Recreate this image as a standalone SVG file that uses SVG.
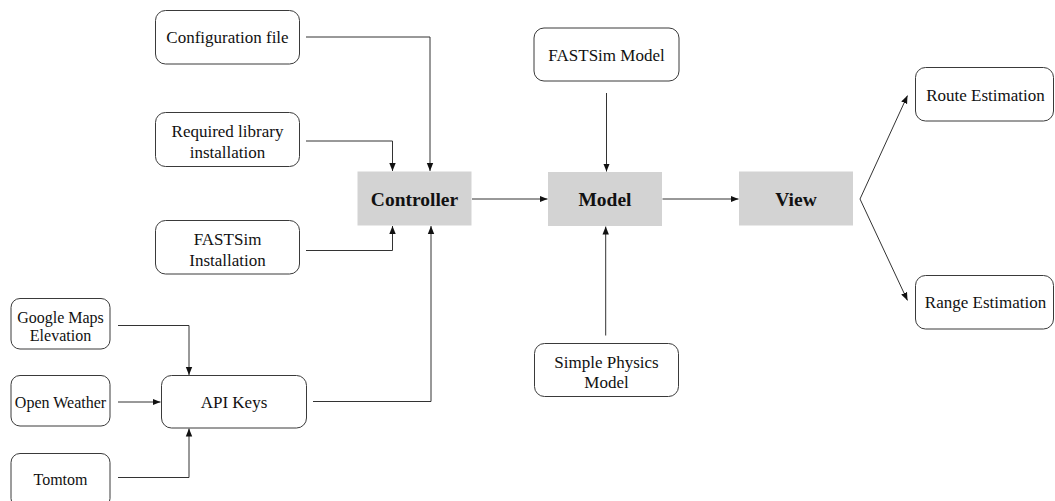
<svg xmlns="http://www.w3.org/2000/svg" width="1055" height="501" viewBox="0 0 1055 501">
<style>
.box{fill:#ffffff;stroke:#3a3a3a;stroke-width:1}
.core{fill:#d3d3d3;stroke:none}
.t{font-family:"Liberation Serif","Times New Roman",serif;font-size:17px;fill:#111;text-anchor:middle}
.s{font-size:16px}
.b{font-family:"Liberation Serif","Times New Roman",serif;font-size:19.5px;font-weight:bold;fill:#111;text-anchor:middle}
.c{fill:none;stroke:#333;stroke-width:1;marker-end:url(#ah)}
</style>
<defs>
<marker id="ah" markerUnits="userSpaceOnUse" markerWidth="8" markerHeight="8" viewBox="0 0 8 8" refX="8" refY="4" orient="auto">
<path d="M0,0.8 L8,4 L0,7.2 z" fill="#111"/>
</marker>
</defs>
<rect width="1055" height="501" fill="#ffffff"/>
<g id="connectors">
<path class="c" d="M306,37 H430 V171"/>
<path class="c" d="M306,141 H392.5 V171"/>
<path class="c" d="M306,250.5 H392.5 V226"/>
<path class="c" d="M313,401.5 H431 V226"/>
<path class="c" d="M118,325.5 H189 V375"/>
<path class="c" d="M118,402 H160.5"/>
<path class="c" d="M118,477.5 H189 V428.5"/>
<path class="c" d="M472,199 H547.5"/>
<path class="c" d="M606.5,93 V171.5"/>
<path class="c" d="M662.5,199 H738.5"/>
<path class="c" d="M605.7,335.5 V226.5"/>
<path class="c" d="M860,199 L907.5,95.5"/>
<path class="c" d="M860,199 L907.5,300.5"/>
</g>
<g id="config-file"><rect class="box" x="155.5" y="10.5" width="144" height="53.5" rx="10"/><text class="t" x="227.5" y="43">Configuration file</text></g>
<g id="required-library"><rect class="box" x="155.5" y="112.5" width="144" height="54" rx="10"/><text class="t" x="227.5" y="137">Required library</text><text class="t" x="227.5" y="158">installation</text></g>
<g id="fastsim-installation"><rect class="box" x="155.5" y="220.5" width="144" height="53.5" rx="10"/><text class="t" x="227.5" y="245">FASTSim</text><text class="t" x="227.5" y="266">Installation</text></g>
<g id="google-maps"><rect class="box" x="11" y="298.5" width="99" height="50.5" rx="9"/><text class="t s" x="60.5" y="322.5">Google Maps</text><text class="t s" x="60.5" y="341">Elevation</text></g>
<g id="open-weather"><rect class="box" x="11" y="375.5" width="99" height="50.5" rx="9"/><text class="t s" x="60.5" y="407.5">Open Weather</text></g>
<g id="tomtom"><rect class="box" x="11" y="453.5" width="99" height="54" rx="9"/><text class="t s" x="60.5" y="484.5">Tomtom</text></g>
<g id="api-keys"><rect class="box" x="161.5" y="375.5" width="145" height="52.5" rx="10"/><text class="t" x="234" y="408">API Keys</text></g>
<g id="controller"><rect class="core" x="357.5" y="171.5" width="114" height="54"/><text class="b" x="414.5" y="205.5">Controller</text></g>
<g id="model"><rect class="core" x="548" y="172" width="114" height="54"/><text class="b" x="605" y="206">Model</text></g>
<g id="view"><rect class="core" x="739" y="171.5" width="114" height="54"/><text class="b" x="796" y="205.5">View</text></g>
<g id="fastsim-model"><rect class="box" x="534" y="28" width="145" height="53" rx="10"/><text class="t" x="606.5" y="61">FASTSim Model</text></g>
<g id="simple-physics"><rect class="box" x="534.5" y="343.5" width="144" height="53" rx="10"/><text class="t" x="606.5" y="367.5">Simple Physics</text><text class="t" x="606.5" y="388">Model</text></g>
<g id="route-estimation"><rect class="box" x="915.5" y="67.5" width="138" height="53.5" rx="10"/><text class="t" x="985.5" y="101">Route Estimation</text></g>
<g id="range-estimation"><rect class="box" x="915.5" y="275.5" width="138" height="53.5" rx="10"/><text class="t" x="985.5" y="308">Range Estimation</text></g>
</svg>
